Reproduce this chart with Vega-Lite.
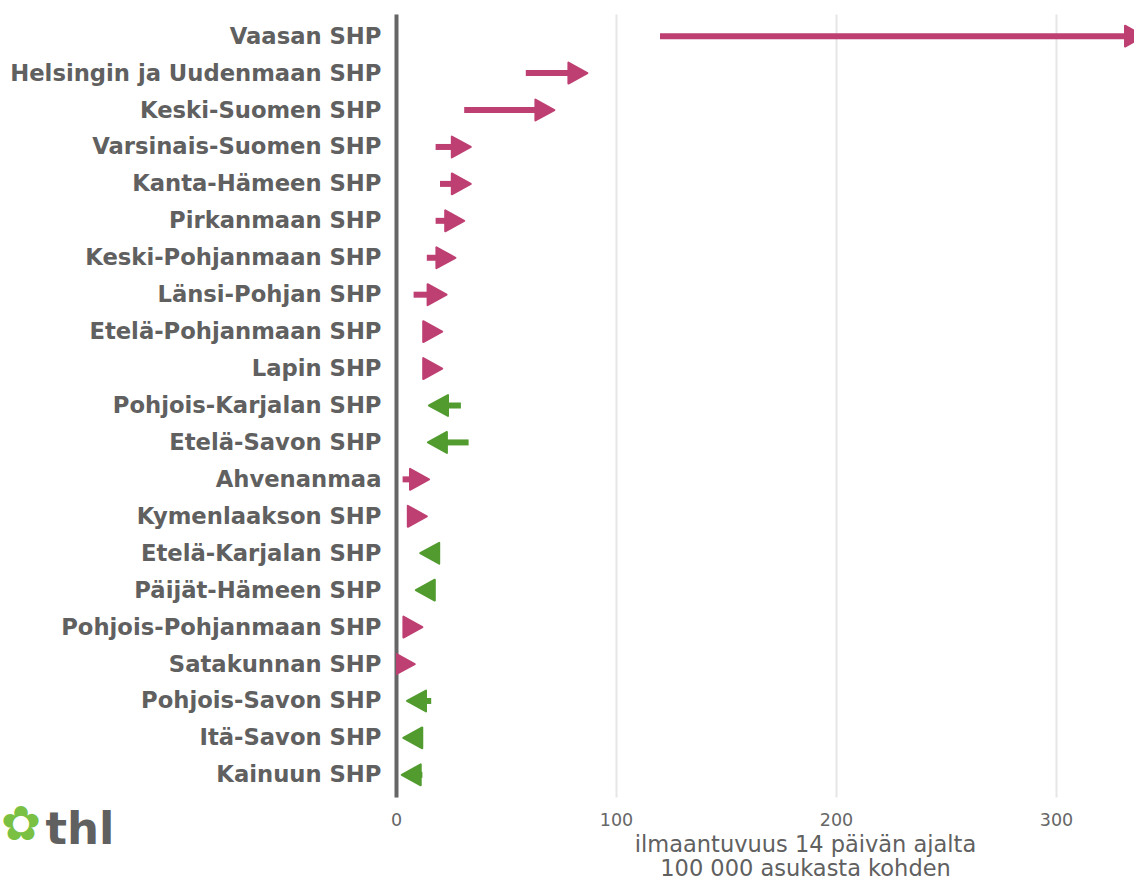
{
  "$schema": "https://vega.github.io/schema/vega-lite/v6.json",
  "width": 738,
  "height": 783,
  "autosize": "none",
  "padding": {"left": 396, "top": 14, "right": 0, "bottom": 83},
  "background": "white",
  "config": {"view": {"stroke": null}, "font": "DejaVu Sans"},
  "title": {
    "text": "✿",
    "orient": "bottom",
    "anchor": "start",
    "frame": "bounds",
    "color": "#7ac143",
    "fontSize": 48,
    "fontWeight": "normal",
    "offset": -78,
    "dx": -9
  },
  "data": {
    "values": [
      {"alue": "Vaasan SHP", "alku": 120, "loppu": 340, "suunta": "nousu"},
      {"alue": "Helsingin ja Uudenmaan SHP", "alku": 59, "loppu": 87, "suunta": "nousu"},
      {"alue": "Keski-Suomen SHP", "alku": 31, "loppu": 72, "suunta": "nousu"},
      {"alue": "Varsinais-Suomen SHP", "alku": 18, "loppu": 34, "suunta": "nousu"},
      {"alue": "Kanta-Hämeen SHP", "alku": 20, "loppu": 34, "suunta": "nousu"},
      {"alue": "Pirkanmaan SHP", "alku": 18, "loppu": 31, "suunta": "nousu"},
      {"alue": "Keski-Pohjanmaan SHP", "alku": 14, "loppu": 27, "suunta": "nousu"},
      {"alue": "Länsi-Pohjan SHP", "alku": 8, "loppu": 23, "suunta": "nousu"},
      {"alue": "Etelä-Pohjanmaan SHP", "alku": 16, "loppu": 21, "suunta": "nousu"},
      {"alue": "Lapin SHP", "alku": 16, "loppu": 21, "suunta": "nousu"},
      {"alue": "Pohjois-Karjalan SHP", "alku": 29.5, "loppu": 15, "suunta": "lasku"},
      {"alue": "Etelä-Savon SHP", "alku": 33, "loppu": 14.5, "suunta": "lasku"},
      {"alue": "Ahvenanmaa", "alku": 3, "loppu": 15, "suunta": "nousu"},
      {"alue": "Kymenlaakson SHP", "alku": 10, "loppu": 14, "suunta": "nousu"},
      {"alue": "Etelä-Karjalan SHP", "alku": 19, "loppu": 11, "suunta": "lasku"},
      {"alue": "Päijät-Hämeen SHP", "alku": 17, "loppu": 9, "suunta": "lasku"},
      {"alue": "Pohjois-Pohjanmaan SHP", "alku": 6, "loppu": 12, "suunta": "nousu"},
      {"alue": "Satakunnan SHP", "alku": 2, "loppu": 8.5, "suunta": "nousu"},
      {"alue": "Pohjois-Savon SHP", "alku": 16, "loppu": 5, "suunta": "lasku"},
      {"alue": "Itä-Savon SHP", "alku": 11, "loppu": 3.3, "suunta": "lasku"},
      {"alue": "Kainuun SHP", "alku": 12, "loppu": 2.6, "suunta": "lasku"}
    ]
  },
  "encoding": {
    "y": {
      "field": "alue",
      "type": "nominal",
      "sort": null,
      "scale": {
        "type": "point",
        "padding": 0.6,
        "domain": [
          "Vaasan SHP", "Helsingin ja Uudenmaan SHP", "Keski-Suomen SHP", "Varsinais-Suomen SHP",
          "Kanta-Hämeen SHP", "Pirkanmaan SHP", "Keski-Pohjanmaan SHP", "Länsi-Pohjan SHP",
          "Etelä-Pohjanmaan SHP", "Lapin SHP", "Pohjois-Karjalan SHP", "Etelä-Savon SHP",
          "Ahvenanmaa", "Kymenlaakson SHP", "Etelä-Karjalan SHP", "Päijät-Hämeen SHP",
          "Pohjois-Pohjanmaan SHP", "Satakunnan SHP", "Pohjois-Savon SHP", "Itä-Savon SHP",
          "Kainuun SHP"
        ]
      },
      "axis": {
        "title": "thl",
        "titleAngle": 0,
        "titleX": -351,
        "titleY": 829,
        "titleAlign": "left",
        "titleBaseline": "alphabetic",
        "titleFontSize": 45,
        "titleFontWeight": "bold",
        "titleColor": "#606060",
        "labelFontSize": 22.7,
        "labelFontWeight": "bold",
        "labelColor": "#606060",
        "labelPadding": 15,
        "labelLimit": 500,
        "ticks": false,
        "grid": false,
        "domainColor": "#666666",
        "domainWidth": 4
      }
    },
    "x": {
      "field": "alku",
      "type": "quantitative",
      "scale": {"domain": [0, 335.45], "nice": false, "zero": false},
      "axis": {
        "values": [0, 100, 200, 300],
        "grid": true,
        "gridColor": "#e6e6e6",
        "gridWidth": 2,
        "domain": false,
        "ticks": false,
        "labelFlush": false,
        "labelFontSize": 17.5,
        "labelColor": "#666666",
        "labelPadding": 14,
        "title": ["ilmaantuvuus 14 päivän ajalta", "100 000 asukasta kohden"],
        "titleFontSize": 22.5,
        "titleFontWeight": "normal",
        "titleColor": "#606060",
        "titleLineHeight": 24,
        "titleX": 409,
        "titlePadding": 5
      }
    }
  },
  "layer": [
    {
      "transform": [{"filter": "datum.suunta == 'nousu'"}],
      "mark": {"type": "rule", "strokeWidth": 6, "clip": true, "color": "#be3f72", "x2Offset": -10},
      "encoding": {"x2": {"field": "loppu"}}
    },
    {
      "transform": [{"filter": "datum.suunta == 'lasku'"}],
      "mark": {"type": "rule", "strokeWidth": 6, "clip": true, "color": "#519b2f", "x2Offset": 10},
      "encoding": {"x2": {"field": "loppu"}}
    },
    {
      "mark": {"type": "point", "filled": true, "clip": true, "size": 1444, "opacity": 1, "strokeWidth": 2, "strokeJoin": "round"},
      "encoding": {
        "x": {"field": "loppu", "type": "quantitative"},
        "fill": {
          "field": "suunta",
          "type": "nominal",
          "scale": {"domain": ["nousu", "lasku"], "range": ["#be3f72", "#519b2f"]},
          "legend": null
        },
        "stroke": {
          "field": "suunta",
          "type": "nominal",
          "scale": {"domain": ["nousu", "lasku"], "range": ["#be3f72", "#519b2f"]},
          "legend": null
        },
        "shape": {
          "field": "suunta",
          "type": "nominal",
          "scale": {"domain": ["nousu", "lasku"], "range": ["M0,0L-1,-0.55L-1,0.55Z", "M0,0L1,-0.55L1,0.55Z"]},
          "legend": null
        }
      }
    }
  ]
}
